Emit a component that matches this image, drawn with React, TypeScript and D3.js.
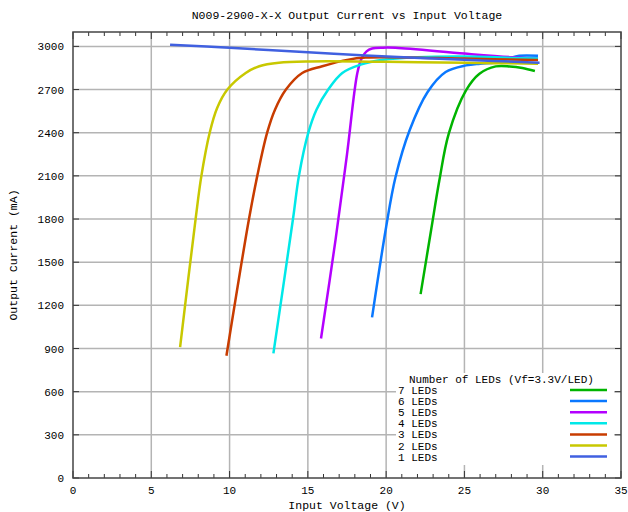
import React from "react";
import * as d3 from "d3";

const title = "N009-2900-X-X Output Current vs Input Voltage";
const xLabel = "Input Voltage (V)";
const yLabel = "Output Current (mA)";
const legendTitle = "Number of LEDs (Vf=3.3V/LED)";

const xTicks = [0, 5, 10, 15, 20, 25, 30, 35];
const yTicks = [0, 300, 600, 900, 1200, 1500, 1800, 2100, 2400, 2700, 3000];

// series, in plot order (7 LEDs first)
const v7 = [22.2, 22.87, 23.4, 24.0, 25.1, 25.96, 27.0, 27.9, 28.7, 29.5];
const i7 = [1278, 1722, 2069, 2394, 2694, 2810, 2861, 2861, 2850, 2829];

const v6 = [19.1, 20.0, 20.6, 21.5, 22.65, 23.8, 25.1, 26, 27, 27.8, 28.5, 29.7];
const i6 = [1116, 1745, 2092, 2417, 2683, 2822, 2868, 2880, 2888, 2915, 2935, 2935];

const v5 = [15.84, 16.77, 17.5, 18.16, 18.45, 18.75, 19.1, 19.8, 20.6, 25, 28, 29.7];
const i5 = [970, 1657, 2250, 2815, 2920, 2965, 2985, 2991, 2990, 2950, 2925, 2915];

const v4 = [12.8, 14.05, 14.43, 15.03, 15.55, 16.3, 17.2, 18.37, 19.8, 22, 25, 28, 29.7];
const i4 = [866, 1800, 2100, 2400, 2560, 2700, 2815, 2873, 2907, 2925, 2930, 2920, 2915];

const v3 = [9.8, 11.24, 11.77, 12.4, 12.9, 13.6, 14.64, 15.92, 17.6, 18.7, 20, 25, 29.7];
const i3 = [850, 1800, 2100, 2400, 2560, 2700, 2815, 2862, 2908, 2922, 2925, 2915, 2905];

const v2 = [6.84, 7.83, 8.2, 8.73, 9.2, 9.86, 11.03, 11.9, 13.15, 15.1, 20, 25, 29.7];
const i2 = [910, 1800, 2100, 2400, 2570, 2700, 2815, 2862, 2886, 2895, 2893, 2886, 2880];

const v1 = [6.2, 10, 15, 18.7, 25, 29.8];
const i1 = [3012, 2990, 2960, 2937, 2907, 2886];

const seriesNames = ["7 LEDs", "6 LEDs", "5 LEDs", "4 LEDs", "3 LEDs", "2 LEDs", "1 LEDs"];
const seriesColors = ["#00b400", "#0a78ff", "#b400ff", "#00e8e8", "#c83c00", "#c8c800", "#4060e0"];
const seriesV = [v7, v6, v5, v4, v3, v2, v1];
const seriesI = [i7, i6, i5, i4, i3, i2, i1];

const W = 628;
const H = 512;
const margin = { top: 32, right: 7, bottom: 34, left: 73 };
const font = "'Liberation Mono', 'DejaVu Sans Mono', monospace";

export default function App() {
  const x = d3.scaleLinear().domain([0, 35]).range([margin.left, W - margin.right]);
  const y = d3.scaleLinear().domain([0, 3100]).range([H - margin.bottom, margin.top]);
  const x0 = x(0), x1 = x(35), y0 = y(0), y1 = y(3100);

  const line = d3
    .line<[number, number]>()
    .x((d) => x(d[0]))
    .y((d) => y(d[1]))
    .curve(d3.curveCatmullRom.alpha(0.5));

  const minor = d3.range(0, 36, 1).filter((v) => v % 5 !== 0);

  return (
    <svg width={W} height={H} style={{ position: "absolute", left: 0, top: 0 }}>
      <rect width={W} height={H} fill="#fff" />
      {/* grid */}
      {xTicks.slice(1, -1).map((t) => (
        <line key={"gx" + t} x1={x(t)} x2={x(t)} y1={y1} y2={y0} stroke="#b4b4b4" strokeWidth={1.5} />
      ))}
      {yTicks.slice(1).map((t) => (
        <line key={"gy" + t} x1={x0} x2={x1} y1={y(t)} y2={y(t)} stroke="#b4b4b4" strokeWidth={1.5} />
      ))}
      {/* legend box hides grid */}
      <rect x={396} y={373} width={218} height={92} fill="#fff" />
      {/* ticks */}
      {minor.map((t) => (
        <g key={"mx" + t} stroke="#333" strokeWidth={1}>
          <line x1={x(t)} x2={x(t)} y1={y0} y2={y0 - 4} />
          <line x1={x(t)} x2={x(t)} y1={y1} y2={y1 + 4} />
        </g>
      ))}
      {xTicks.map((t) => (
        <g key={"Mx" + t} stroke="#333" strokeWidth={1}>
          <line x1={x(t)} x2={x(t)} y1={y0} y2={y0 - 7} />
          <line x1={x(t)} x2={x(t)} y1={y1} y2={y1 + 7} />
        </g>
      ))}
      {yTicks.map((t) => (
        <g key={"My" + t} stroke="#333" strokeWidth={1}>
          <line x1={x0} x2={x0 + 6} y1={y(t)} y2={y(t)} />
          <line x1={x1} x2={x1 - 6} y1={y(t)} y2={y(t)} />
        </g>
      ))}
      {/* series */}
      {seriesNames.map((name, k) => (
        <path
          key={name}
          d={line(seriesV[k].map((v, j) => [v, seriesI[k][j]] as [number, number])) || ""}
          fill="none"
          stroke={seriesColors[k]}
          strokeWidth={2.5}
        />
      ))}
      {/* frame */}
      <rect x={x0} y={y1} width={x1 - x0} height={y0 - y1} fill="none" stroke="#444" strokeWidth={1.5} />
      {/* tick labels */}
      <g fontFamily={font} fontSize={11} fill="#000">
        {xTicks.map((t) => (
          <text key={"lx" + t} x={x(t)} y={y0 + 16} textAnchor="middle">
            {t}
          </text>
        ))}
        {yTicks.map((t) => (
          <text key={"ly" + t} x={x0 - 9} y={y(t) + 4} textAnchor="end">
            {t}
          </text>
        ))}
      </g>
      {/* titles */}
      <text x={(x0 + x1) / 2} y={19} textAnchor="middle" fontFamily={font} fontSize={11.5}>
        {title}
      </text>
      <text x={(x0 + x1) / 2} y={509} textAnchor="middle" fontFamily={font} fontSize={11.5}>
        {xLabel}
      </text>
      <text
        transform={`translate(17,${(y0 + y1) / 2}) rotate(-90)`}
        textAnchor="middle"
        fontFamily={font}
        fontSize={11.5}
      >
        {yLabel}
      </text>
      {/* legend */}
      <g fontFamily={font} fontSize={11}>
        <text x={409} y={383}>
          {legendTitle}
        </text>
        {seriesNames.map((name, k) => (
          <g key={"lg" + name}>
            <text x={398} y={394 + k * 11.1}>
              {name}
            </text>
            <line x1={570} x2={607} y1={390 + k * 11.1} y2={390 + k * 11.1} stroke={seriesColors[k]} strokeWidth={2.5} />
          </g>
        ))}
      </g>
    </svg>
  );
}
